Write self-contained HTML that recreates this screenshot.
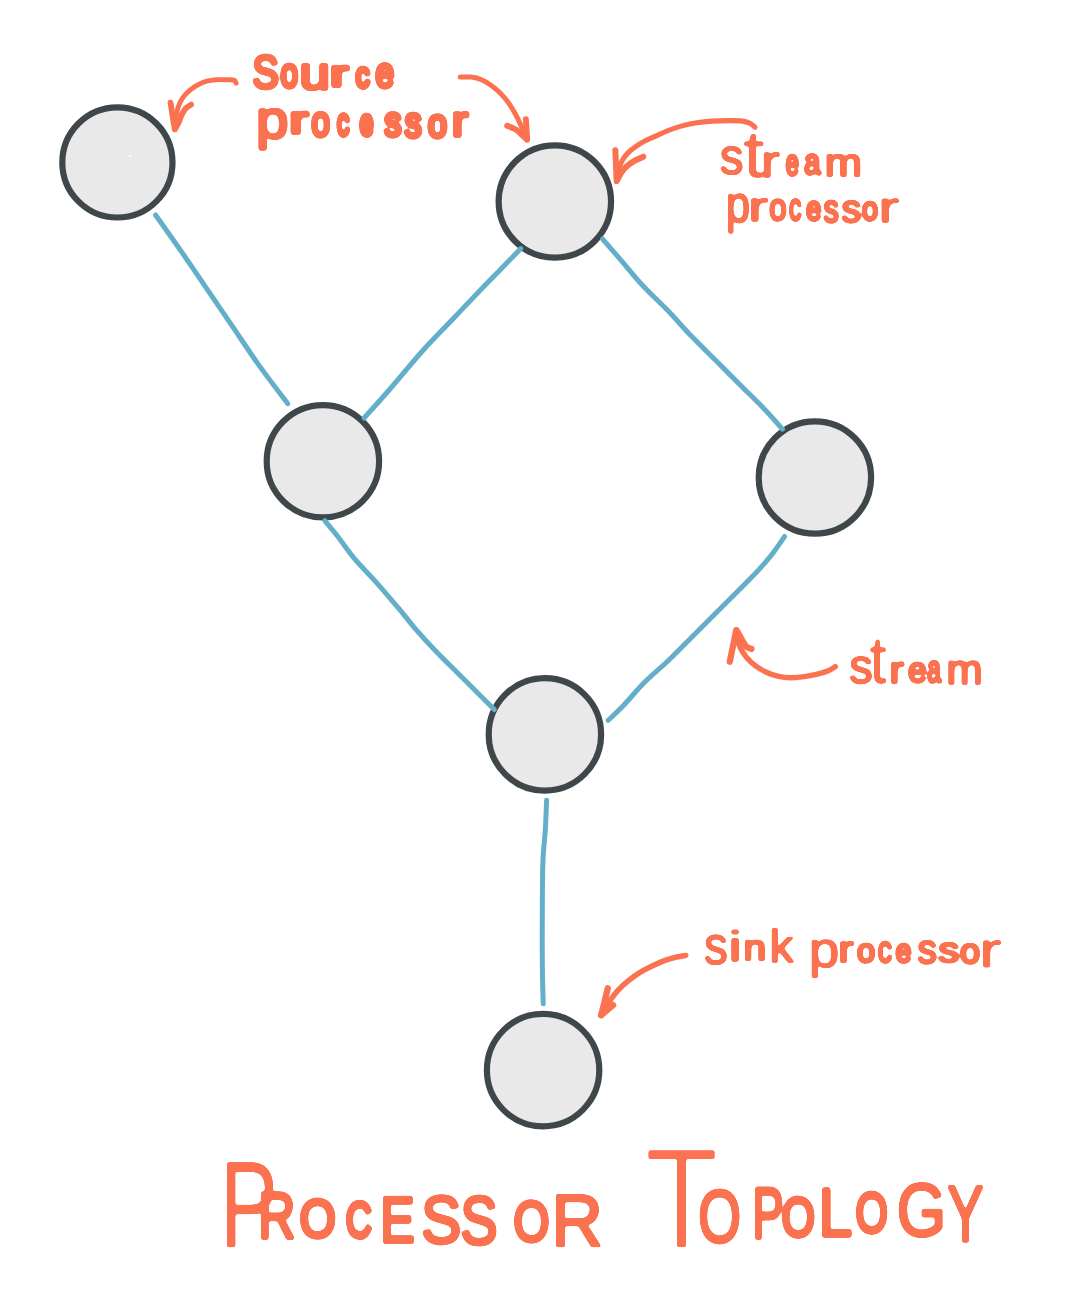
<!DOCTYPE html>
<html lang="en">
<head>
<meta charset="utf-8">
<title>Processor Topology</title>
<style>
html,body{margin:0;padding:0;background:#fff;}
body{width:1080px;height:1291px;overflow:hidden;}
svg{display:block;}
.ln{fill:none;stroke:#63afc9;stroke-width:5.0;stroke-linecap:round;stroke-linejoin:round;}
.nd{fill:#e9e9e9;stroke:#3f474a;stroke-width:6.2;}
.ar{fill:none;stroke:#fb7250;stroke-linecap:round;stroke-linejoin:round;}
.tx text{text-rendering:geometricPrecision;font-family:"Liberation Sans",sans-serif;fill:#fb7250;stroke:#fb7250;stroke-linejoin:round;stroke-linecap:round;}
</style>
</head>
<body>
<svg width="1080" height="1291" viewBox="0 0 1080 1291">
<rect width="1080" height="1291" fill="#fff"/>
<g class="nd">
<circle cx="117.4" cy="162.4" r="55.1"/>
<circle cx="554.85" cy="201.5" r="56.2"/>
<circle cx="322.9" cy="461.25" r="56.2"/>
<circle cx="814.9" cy="477.5" r="56.2"/>
<circle cx="544.9" cy="734.4" r="56.2"/>
<circle cx="543.1" cy="1070.1" r="56.2"/>
</g>
<g class="ln">
<path d="M155.6 215C159.8 221 172.6 238.8 181.1 251.1C189.6 263.4 198.2 276.1 206.7 288.6C215.2 301.1 223.8 313.6 232.3 326.1C240.8 338.6 248.6 350.7 257.8 363.6C267 376.5 282.7 397 287.7 403.7"/>
<path d="M520.8 248.6C517.3 252.2 506.8 263 500 270C493.2 277 488.3 281.8 480 290.5C471.7 299.2 459.7 311.8 450 322C440.3 332.2 432 340.3 422 351.5C412 362.7 399.6 377.9 390 389C380.4 400.1 368.4 413.2 364.1 418"/>
<path d="M602.6 239C605.4 242.2 612.6 250.4 619.2 258.1C625.9 265.8 634.4 276.6 642.5 285.3C650.6 294.1 659.7 302.2 667.8 310.6C675.9 319 683 327.4 691.1 335.8C699.2 344.2 708 352.7 716.4 361.1C724.8 369.5 733.6 378.3 741.7 386.4C749.8 394.5 758.2 402.6 765 409.7C771.8 416.8 779.6 425.9 782.5 429.2"/>
<path d="M324.8 520.7C327 523.3 332.9 530.2 337.8 536.5C342.7 542.8 347.9 551 354.4 558.7C360.9 566.4 369.3 574.5 376.7 582.8C384.1 591.1 392.4 601 398.9 608.7C405.4 616.4 409.4 622 415.6 629.1C421.8 636.2 428.8 643.9 435.9 651.3C443 658.7 451.3 666.7 458.1 673.5C464.9 680.3 470.7 686 476.7 692C482.7 698 491.4 706.7 494.3 709.6"/>
<path d="M784.6 536.5C782.2 539.9 775.7 549.9 770 556.9C764.3 563.9 758.7 569.9 750.6 578.3C742.5 586.7 731.1 597.8 721.4 607.5C711.7 617.2 701 628 692.2 636.7C683.5 645.5 677 652.2 668.9 660C660.8 667.8 651 675.8 643.6 683.3C636.2 690.8 630.1 698.5 624.2 704.7C618.3 710.9 610.9 717.7 608.2 720.3"/>
<path d="M546.6 800.3C546.4 805.2 545.9 819.7 545.3 830C544.7 840.3 543.4 847.8 542.9 862C542.4 876.2 542.4 897.3 542.3 915C542.2 932.7 542.2 953.2 542.4 968C542.5 982.8 543.1 997.8 543.2 1003.7"/>
</g>
<circle cx="130" cy="156.3" r="1.3" fill="#fff" opacity="0.9"/>
<g class="ar">
<path stroke-width="4.9" d="M236.2 83.2C235.8 82.7 235.6 80.7 233.9 80.1C232.2 79.5 229.1 79.8 226.1 79.7C223.1 79.6 219.2 79.5 216 79.7C212.8 80 209.7 80.4 206.7 81.2C203.7 82 200.8 83.3 198.1 84.7C195.4 86.1 192.6 87.9 190.3 89.8C188 91.7 185.8 93.8 184.1 96C182.3 98.2 181 100.5 179.8 103C178.6 105.5 177.8 108.1 177.1 110.8C176.4 113.5 176 116.2 175.6 119.3C175.2 122.4 174.9 127.7 174.8 129.4"/>
<path stroke-width="5.8" d="M170.5 102.6C170.8 104.8 171.9 111.5 172.6 116C173.3 120.5 174.4 127.2 174.8 129.4M191.1 104.6C190.2 105.2 187.2 106.7 185.7 108.4C184.1 110.1 183 112.4 181.8 114.7C180.6 117 179.8 120 178.7 122.4C177.6 124.8 175.6 128.1 175 129.2"/>
<path stroke-width="5.0" d="M460.2 77.1C462.1 77.1 467.8 76.6 471.4 77.1C475 77.5 478.4 78.4 481.6 79.8C484.9 81.2 487.9 83.1 490.9 85.2C493.9 87.3 496.8 89.7 499.4 92.2C502 94.7 504.2 97.2 506.4 100C508.6 102.8 510.8 106.1 512.7 109.3C514.7 112.5 516.4 116 518.1 119.4C519.8 122.8 521.3 126.2 522.8 129.6C524.3 133 526.4 138 527.1 139.7"/>
<path stroke-width="5.9" d="M507.2 125.7C508.6 126.3 513.3 128 515.8 129.6C518.3 131.2 520.1 133.3 522 135C523.9 136.7 526.2 138.8 527 139.6M525.9 119.1C526 120.8 526.4 126.1 526.6 129.5C526.8 132.9 527.1 137.8 527.2 139.5"/>
<path stroke-width="5.1" d="M755 127.2C754.2 126.5 752.3 124.3 750 123.3C747.7 122.2 744.8 121.4 741.1 120.9C737.4 120.5 732.6 120.6 727.8 120.6C723 120.6 717.4 120.7 712.2 121.1C707 121.5 701.9 122 696.7 122.8C691.5 123.6 686.1 124.7 681.1 126.1C676.1 127.5 671 129.4 666.7 131.1C662.5 132.8 659.4 134.4 655.6 136.1C651.8 137.8 647 139.8 643.9 141.4C640.8 143 639.3 144.2 637.2 145.6C635.1 147 633 148.4 631.1 150C629.2 151.6 627.6 153.2 626.1 155C624.6 156.8 623.3 158.6 622.2 160.6C621.1 162.6 620.2 165 619.4 167.2C618.6 169.4 618 171.6 617.5 173.9C617 176.2 616.8 179.9 616.7 181.1"/>
<path stroke-width="6" d="M615.3 150.2C615.4 152.8 615.8 160.9 616 166C616.2 171.1 616.6 178.5 616.7 181M643.3 156.7C641.7 157.4 636.8 159.4 633.9 161.1C631 162.8 628.2 164.8 626.1 166.7C624 168.6 622.6 170.5 621.1 172.8C619.6 175.2 617.7 179.5 617 180.8"/>
<path stroke-width="5.4" d="M835.3 666.7C834 667.4 830.8 669.8 827.6 671.1C824.5 672.4 820.3 673.5 816.4 674.4C812.5 675.3 808.5 676.1 804.2 676.7C800 677.3 795.3 677.9 790.9 677.8C786.5 677.7 781.9 677.1 777.6 676.1C773.3 675.1 769 673.5 765.3 671.7C761.6 670 758.4 668 755.3 665.6C752.1 663.2 748.9 660.2 746.4 657.2C743.9 654.2 741.9 651 740.3 647.8C738.7 644.6 737.6 640.8 737 637.8C736.4 634.8 736.5 631.3 736.4 630"/>
<path stroke-width="6.3" d="M736.2 630.2C735.7 632.8 734.1 640.8 733 646C731.9 651.2 730.3 659.1 729.8 661.7M736.6 630.2C737.5 631.8 740.4 637.2 742 640C743.6 642.8 744.8 645.2 746.4 646.7C748 648.2 750.6 648.5 751.4 648.9"/>
<path stroke-width="5.4" d="M685.8 955.4C684.3 955.7 680.2 956.2 676.7 957C673.2 957.8 669.1 958.9 665.1 960.4C661.1 961.9 656.8 963.7 652.6 965.7C648.4 967.7 644.1 969.9 640.1 972.4C636.1 974.9 632 977.8 628.5 980.6C625 983.4 621.8 986.2 618.9 989.3C616 992.3 613.5 995.8 611.2 998.9C609 1002 607.1 1004.9 605.4 1007.6C603.7 1010.3 601.8 1014 601.1 1015.3"/>
<path stroke-width="6.3" d="M607.8 988.3C607.2 990.6 605.6 997.5 604.5 1002C603.4 1006.5 601.7 1013.1 601.1 1015.3M613.1 1005.2C611.1 1006.9 603.3 1013.5 601.3 1015.1"/>
</g>
<defs><filter id="ink" x="-5%" y="-5%" width="110%" height="110%" color-interpolation-filters="sRGB"><feFlood flood-color="#fff" result="w"/><feComposite in="SourceGraphic" in2="w" operator="over" result="o"/><feColorMatrix in="o" type="matrix" values="0 0 0 0 0.9843  0 0 0 0 0.4471  0 0 0 0 0.3137  0 0 -1.4571 0 1.4571" result="m"/><feGaussianBlur in="m" stdDeviation="1.3" result="b"/><feComponentTransfer in="b"><feFuncA type="linear" slope="5" intercept="-2"/></feComponentTransfer></filter></defs>
<g class="tx" filter="url(#ink)">
<text aria-label="Source"><tspan x="252.57" y="88.31" font-size="46.21" textLength="26.09" lengthAdjust="spacingAndGlyphs" stroke-width="4.28">S</tspan><tspan x="280.64" y="86.67" font-size="40.96" textLength="17.13" lengthAdjust="spacingAndGlyphs" stroke-width="4.86">o</tspan><tspan x="299.43" y="89.16" font-size="45.93" textLength="30.52" lengthAdjust="spacingAndGlyphs" stroke-width="3.58">u</tspan><tspan x="330.52" y="86.08" font-size="36.34" textLength="17.55" lengthAdjust="spacingAndGlyphs" stroke-width="4.05">r</tspan><tspan x="355.74" y="86.54" font-size="35.19" textLength="13.77" lengthAdjust="spacingAndGlyphs" stroke-width="5.22">c</tspan><tspan x="375.52" y="86.74" font-size="42.18" textLength="18.62" lengthAdjust="spacingAndGlyphs" stroke-width="4.69">e</tspan></text>
<text aria-label="processor"><tspan x="256.37" y="138.32" font-size="53.45" textLength="32.06" lengthAdjust="spacingAndGlyphs" stroke-width="3.17">p</tspan><tspan x="289.55" y="132.67" font-size="38.18" textLength="18.43" lengthAdjust="spacingAndGlyphs" stroke-width="3.86">r</tspan><tspan x="311.56" y="136.44" font-size="42.54" textLength="18.38" lengthAdjust="spacingAndGlyphs" stroke-width="4.7">o</tspan><tspan x="337.09" y="135.2" font-size="37.85" textLength="12.22" lengthAdjust="spacingAndGlyphs" stroke-width="5.26">c</tspan><tspan x="359.71" y="134.59" font-size="36.68" textLength="13.63" lengthAdjust="spacingAndGlyphs" stroke-width="5.3">e</tspan><tspan x="384.36" y="136.07" font-size="42.4" textLength="17.28" lengthAdjust="spacingAndGlyphs" stroke-width="4.63">s</tspan><tspan x="404.53" y="137.18" font-size="43.39" textLength="17.32" lengthAdjust="spacingAndGlyphs" stroke-width="4.59">s</tspan><tspan x="427.95" y="137.13" font-size="39.87" textLength="18.9" lengthAdjust="spacingAndGlyphs" stroke-width="4.76">o</tspan><tspan x="451.72" y="136.22" font-size="43.2" textLength="16.31" lengthAdjust="spacingAndGlyphs" stroke-width="3.95">r</tspan></text>
<text aria-label="stream"><tspan x="719.64" y="173.54" font-size="50.84" textLength="23.82" lengthAdjust="spacingAndGlyphs" stroke-width="1.72">s</tspan><tspan x="743.15" y="176.78" font-size="66.64" textLength="21.11" lengthAdjust="spacingAndGlyphs" stroke-width="0.4">t</tspan><tspan x="760.85" y="177.25" font-size="45.54" textLength="19.06" lengthAdjust="spacingAndGlyphs" stroke-width="1.49">r</tspan><tspan x="785.41" y="174.89" font-size="36.68" textLength="13.63" lengthAdjust="spacingAndGlyphs" stroke-width="3.3">e</tspan><tspan x="803.99" y="174" font-size="36.15" textLength="16.46" lengthAdjust="spacingAndGlyphs" stroke-width="3.09">a</tspan><tspan x="824.78" y="176.35" font-size="39.41" textLength="37.22" lengthAdjust="spacingAndGlyphs" stroke-width="2.29">m</tspan></text>
<text aria-label="processor"><tspan x="726.06" y="222.3" font-size="51.82" textLength="24.01" lengthAdjust="spacingAndGlyphs" stroke-width="1.89">p</tspan><tspan x="747.93" y="221.26" font-size="41.85" textLength="20.21" lengthAdjust="spacingAndGlyphs" stroke-width="1.48">r</tspan><tspan x="769.29" y="220.14" font-size="37.65" textLength="17.23" lengthAdjust="spacingAndGlyphs" stroke-width="2.98">o</tspan><tspan x="789.08" y="220.01" font-size="37.88" textLength="12.35" lengthAdjust="spacingAndGlyphs" stroke-width="3.25">c</tspan><tspan x="806.05" y="219.74" font-size="34.03" textLength="15.46" lengthAdjust="spacingAndGlyphs" stroke-width="3.26">e</tspan><tspan x="823.51" y="221.85" font-size="39.3" textLength="15.34" lengthAdjust="spacingAndGlyphs" stroke-width="2.93">s</tspan><tspan x="841.46" y="222.05" font-size="39.11" textLength="19.8" lengthAdjust="spacingAndGlyphs" stroke-width="2.53">s</tspan><tspan x="862.02" y="220.25" font-size="33.13" textLength="15.96" lengthAdjust="spacingAndGlyphs" stroke-width="3.25">o</tspan><tspan x="878.16" y="221.52" font-size="43" textLength="20.77" lengthAdjust="spacingAndGlyphs" stroke-width="1.36">r</tspan></text>
<text aria-label="stream"><tspan x="849.21" y="682.81" font-size="48.81" textLength="23.47" lengthAdjust="spacingAndGlyphs" stroke-width="1.83">s</tspan><tspan x="869.87" y="683.4" font-size="66.69" textLength="16.69" lengthAdjust="spacingAndGlyphs" stroke-width="0.56">t</tspan><tspan x="889.64" y="682.99" font-size="38.08" textLength="14.37" lengthAdjust="spacingAndGlyphs" stroke-width="2.41">r</tspan><tspan x="908.05" y="681.68" font-size="35.13" textLength="18.66" lengthAdjust="spacingAndGlyphs" stroke-width="2.96">e</tspan><tspan x="927.25" y="682.22" font-size="38.48" textLength="13.84" lengthAdjust="spacingAndGlyphs" stroke-width="3.22">a</tspan><tspan x="946.54" y="684.48" font-size="42.29" textLength="36.09" lengthAdjust="spacingAndGlyphs" stroke-width="2.24">m</tspan></text>
<text aria-label="sink"><tspan x="704.07" y="963.57" font-size="53.99" textLength="23.85" lengthAdjust="spacingAndGlyphs" stroke-width="1.6">s</tspan><tspan x="728.15" y="961.09" font-size="42.33" textLength="13.64" lengthAdjust="spacingAndGlyphs" stroke-width="1.43">i</tspan><tspan x="743.52" y="960.49" font-size="35.83" textLength="22.49" lengthAdjust="spacingAndGlyphs" stroke-width="2.62">n</tspan><tspan x="769.56" y="961.84" font-size="46.07" textLength="23.71" lengthAdjust="spacingAndGlyphs" stroke-width="1.92">k</tspan></text>
<text aria-label="processor"><tspan x="808.67" y="966.83" font-size="50.44" textLength="30.53" lengthAdjust="spacingAndGlyphs" stroke-width="1.41">p</tspan><tspan x="838.21" y="962.44" font-size="37.33" textLength="15.3" lengthAdjust="spacingAndGlyphs" stroke-width="2.31">r</tspan><tspan x="857.07" y="962.24" font-size="33.46" textLength="18.06" lengthAdjust="spacingAndGlyphs" stroke-width="3.07">o</tspan><tspan x="877.66" y="962.18" font-size="37.01" textLength="14.12" lengthAdjust="spacingAndGlyphs" stroke-width="3.12">c</tspan><tspan x="895.49" y="961.66" font-size="33.15" textLength="16.07" lengthAdjust="spacingAndGlyphs" stroke-width="3.24">e</tspan><tspan x="917.47" y="962.95" font-size="41" textLength="19.38" lengthAdjust="spacingAndGlyphs" stroke-width="2.5">s</tspan><tspan x="938.31" y="962.47" font-size="35.39" textLength="21.03" lengthAdjust="spacingAndGlyphs" stroke-width="2.56">s</tspan><tspan x="960.01" y="962.83" font-size="34.76" textLength="20.08" lengthAdjust="spacingAndGlyphs" stroke-width="2.85">o</tspan><tspan x="978.94" y="967.26" font-size="49.49" textLength="22.55" lengthAdjust="spacingAndGlyphs" stroke-width="0.87">r</tspan></text>
<text aria-label="PROCESSOR"><tspan x="219.91" y="1246.7" font-size="122.82" textLength="57.65" lengthAdjust="spacingAndGlyphs" stroke-width="0.4">P</tspan><tspan x="258.36" y="1238.34" font-size="65.24" textLength="36.95" lengthAdjust="spacingAndGlyphs" stroke-width="3.92">R</tspan><tspan x="299.82" y="1237.48" font-size="53.1" textLength="35.89" lengthAdjust="spacingAndGlyphs" stroke-width="4.61">O</tspan><tspan x="346.01" y="1236.71" font-size="49.55" textLength="25.63" lengthAdjust="spacingAndGlyphs" stroke-width="5.22">C</tspan><tspan x="380.24" y="1242.03" font-size="64.19" textLength="34.41" lengthAdjust="spacingAndGlyphs" stroke-width="3.94">E</tspan><tspan x="421.31" y="1242.82" font-size="67.3" textLength="39.91" lengthAdjust="spacingAndGlyphs" stroke-width="3.45">S</tspan><tspan x="460.38" y="1243.83" font-size="68.21" textLength="37.07" lengthAdjust="spacingAndGlyphs" stroke-width="3.61">S</tspan><tspan x="513.79" y="1241.3" font-size="56.49" textLength="35.43" lengthAdjust="spacingAndGlyphs" stroke-width="4.5">O</tspan><tspan x="551.36" y="1246.46" font-size="73.73" textLength="51.72" lengthAdjust="spacingAndGlyphs" stroke-width="2.68">R</tspan></text>
<text aria-label="TOPOLOGY"><tspan x="644.7" y="1248.19" font-size="143.58" textLength="73.66" lengthAdjust="spacingAndGlyphs" stroke="#fff" stroke-width="2.18">T</tspan><tspan x="698.3" y="1241.67" font-size="74.29" textLength="42.72" lengthAdjust="spacingAndGlyphs" stroke-width="3.41">O</tspan><tspan x="752.62" y="1237.67" font-size="72.14" textLength="31" lengthAdjust="spacingAndGlyphs" stroke-width="3.87">P</tspan><tspan x="781.65" y="1235.51" font-size="54.49" textLength="33.02" lengthAdjust="spacingAndGlyphs" stroke-width="4.72">O</tspan><tspan x="818.41" y="1236.12" font-size="68.51" textLength="33.72" lengthAdjust="spacingAndGlyphs" stroke-width="3.37">L</tspan><tspan x="855.82" y="1232.19" font-size="56.04" textLength="31.88" lengthAdjust="spacingAndGlyphs" stroke-width="4.73">O</tspan><tspan x="896.8" y="1235.67" font-size="75.15" textLength="49.34" lengthAdjust="spacingAndGlyphs" stroke-width="2.99">G</tspan><tspan x="947.55" y="1241.16" font-size="79.11" textLength="35.89" lengthAdjust="spacingAndGlyphs" stroke-width="3.27">Y</tspan></text>
</g>
</svg>
</body>
</html>
